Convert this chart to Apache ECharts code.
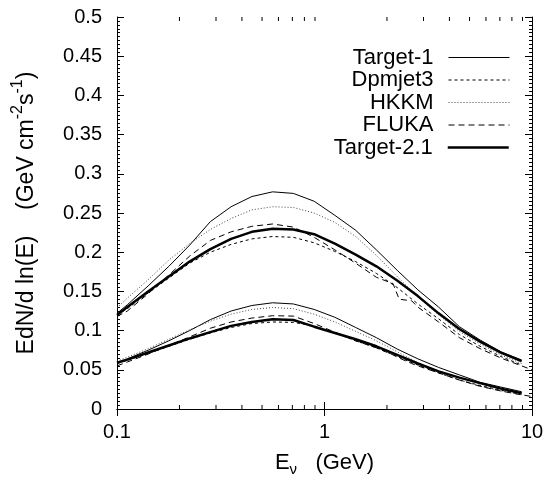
<!DOCTYPE html>
<html><head><meta charset="utf-8">
<script src="https://cdn.jsdelivr.net/npm/echarts@6/dist/echarts.min.js"></script>
<style>html,body{margin:0;padding:0;background:#fff}#c{width:546px;height:480px}</style>
</head><body><div id="c"></div>
<script>
// ---- data ----
const energies = [0.1, 0.1122, 0.1413, 0.1778, 0.2239, 0.2818, 0.3548, 0.4467, 0.5623, 0.7079, 0.8913, 1.122, 1.413, 1.778, 2.239, 2.818, 3.548, 4.467, 5.623, 7.079, 8.913];
const flukaEnergies = [0.1, 0.1122, 0.1413, 0.1778, 0.2239, 0.2818, 0.3548, 0.4467, 0.5623, 0.7079, 0.8913, 1.122, 1.413, 1.778, 2.138, 2.291, 2.630, 2.818, 3.548, 4.467, 5.623, 7.079, 8.913, 10];

const target1Upper = [0.122, 0.133, 0.157, 0.182, 0.209, 0.239, 0.258, 0.271, 0.277, 0.275, 0.265, 0.247, 0.228, 0.203, 0.177, 0.152, 0.130, 0.105, 0.088, 0.073, 0.0625];
const target1Lower = [0.059, 0.064, 0.075, 0.087, 0.100, 0.114, 0.125, 0.132, 0.1355, 0.134, 0.127, 0.117, 0.104, 0.091, 0.0765, 0.064, 0.053, 0.0435, 0.034, 0.028, 0.022];
const dpmjetUpper = [0.120, 0.128, 0.148, 0.167, 0.186, 0.200, 0.210, 0.217, 0.220, 0.219, 0.212, 0.201, 0.188, 0.173, 0.155, 0.134, 0.115, 0.095, 0.080, 0.067, 0.056];
const dpmjetLower = [0.058, 0.062, 0.071, 0.080, 0.089, 0.097, 0.104, 0.109, 0.111, 0.1105, 0.106, 0.097, 0.087, 0.078, 0.067, 0.056, 0.046, 0.037, 0.030, 0.024, 0.019];
const hkkmUpper = [0.129, 0.1415, 0.165, 0.190, 0.211, 0.229, 0.243, 0.254, 0.258, 0.257, 0.250, 0.238, 0.220, 0.196, 0.169, 0.143, 0.120, 0.099, 0.083, 0.069, 0.058];
const hkkmLower = [0.061, 0.066, 0.077, 0.089, 0.101, 0.112, 0.121, 0.127, 0.1295, 0.128, 0.121, 0.111, 0.099, 0.087, 0.073, 0.059, 0.047, 0.037, 0.029, 0.023, 0.018];
const flukaUpper = [0.118, 0.125, 0.147, 0.171, 0.195, 0.215, 0.226, 0.233, 0.236, 0.232, 0.219, 0.203, 0.186, 0.168, 0.160, 0.140, 0.138, 0.130, 0.111, 0.091, 0.077, 0.065, 0.055, 0.050];
const flukaLower = [0.055, 0.060, 0.070, 0.081, 0.092, 0.103, 0.111, 0.116, 0.119, 0.1185, 0.109, 0.098, 0.087, 0.078, 0.069, 0.065, 0.058, 0.055, 0.046, 0.037, 0.029, 0.023, 0.018, 0.016];
const target21Upper = [0.120, 0.130, 0.150, 0.169, 0.188, 0.204, 0.217, 0.226, 0.230, 0.229, 0.223, 0.211, 0.197, 0.182, 0.164, 0.144, 0.122, 0.102, 0.086, 0.072, 0.061];
const target21Lower = [0.059, 0.063, 0.072, 0.081, 0.090, 0.098, 0.106, 0.111, 0.1145, 0.1135, 0.105, 0.097, 0.089, 0.080, 0.069, 0.058, 0.048, 0.040, 0.033, 0.026, 0.020];

const seriesNames = ['Target-1', 'Dpmjet3', 'HKKM', 'FLUKA', 'Target-2.1'];
const xMinorTicks = [0.2, 0.3, 0.4, 0.5, 0.6, 0.7, 0.8, 0.9, 2, 3, 4, 5, 6, 7, 8, 9];

// ---- styles / layout ----
const FONT = 'Liberation Sans, Arial, Helvetica, sans-serif';
const lineStyles = {
  'Target-1':   { width: 1,   type: 'solid', color: '#000' },
  'Dpmjet3':    { width: 1,   type: [3, 3],  color: '#000' },
  'HKKM':       { width: 1,   type: [1, 2],  color: '#444' },
  'FLUKA':      { width: 1,   type: [6, 4],  color: '#000' },
  'Target-2.1': { width: 2.5, type: 'solid', color: '#000' }
};
const legendRowCenters = [57, 79.5, 102, 124.5, 147];

function pairs(xs, ys) { return xs.map((x, i) => [x, ys[i]]); }

const curveDefs = [
  ['Target-1', energies, target1Upper], ['Target-1', energies, target1Lower],
  ['Dpmjet3', energies, dpmjetUpper], ['Dpmjet3', energies, dpmjetLower],
  ['HKKM', energies, hkkmUpper], ['HKKM', energies, hkkmLower],
  ['FLUKA', flukaEnergies, flukaUpper], ['FLUKA', flukaEnergies, flukaLower],
  ['Target-2.1', energies, target21Upper], ['Target-2.1', energies, target21Lower]
];

const series = curveDefs.map(([name, xs, ys]) => ({
  name, type: 'line', data: pairs(xs, ys), symbol: 'none', showSymbol: false,
  smooth: false, silent: true, z: name === 'Target-2.1' ? 5 : 3,
  lineStyle: { ...lineStyles[name] },
  itemStyle: { color: lineStyles[name].color }
}));

series.push({
  type: 'custom', name: 'minorTicks', xAxisIndex: 0, yAxisIndex: 0, silent: true, clip: false,
  data: xMinorTicks.map(v => [v, 0]),
  encode: { x: 0, y: 1 },
  renderItem(params, api) {
    const e = api.value(0);
    const b = api.coord([e, 0]);
    const t = api.coord([e, 0.5]);
    return { type: 'group', children: [
      { type: 'line', shape: { x1: b[0], y1: b[1], x2: b[0], y2: b[1] - 4 }, style: { stroke: '#000', lineWidth: 1 } },
      { type: 'line', shape: { x1: t[0], y1: t[1], x2: t[0], y2: t[1] + 4 }, style: { stroke: '#000', lineWidth: 1 } }
    ] };
  }
});

const axisCommon = {
  axisLine: { show: true, lineStyle: { color: '#000', width: 1 } },
  splitLine: { show: false }
};

const option = {
  animation: false,
  backgroundColor: '#fff',
  textStyle: { fontFamily: FONT },
  grid: { left: 117, right: 14, top: 17, bottom: 71, containLabel: false, outerBoundsMode: 'none' },
  legend: seriesNames.map((n, i) => ({
    data: [n], orient: 'horizontal', align: 'right', right: 36, top: legendRowCenters[i] - 12 + 0.5,
    itemWidth: 61, itemHeight: 14, padding: 0, selectedMode: false,
    itemStyle: { opacity: 0 },
    lineStyle: { width: lineStyles[n].width, type: lineStyles[n].type, color: lineStyles[n].color },
    textStyle: { fontFamily: FONT, fontSize: 22, color: '#000', lineHeight: 24, padding: [0, 10, 0, 0] }
  })),
  xAxis: [
    { ...axisCommon, type: 'log', logBase: 10, min: 0.1, max: 10, position: 'bottom',
      axisTick: { show: true, inside: true, length: 7, lineStyle: { color: '#000' } },
      axisLabel: { color: '#000', fontSize: 20, fontFamily: FONT, margin: 13 },
      name: '{a|E}{s|ν}{a|   (GeV)}', nameLocation: 'middle', nameGap: 40,
      nameTextStyle: { rich: {
        a: { fontSize: 22, fontFamily: FONT, color: '#000', lineHeight: 28, verticalAlign: 'middle' },
        s: { fontSize: 15, fontFamily: FONT, color: '#000', lineHeight: 28, verticalAlign: 'bottom' }
      } }
    },
    { ...axisCommon, type: 'log', logBase: 10, min: 0.1, max: 10, position: 'top',
      axisTick: { show: true, inside: true, length: 7, lineStyle: { color: '#000' } },
      axisLabel: { show: false } }
  ],
  yAxis: [
    { ...axisCommon, type: 'value', min: 0, max: 0.5, interval: 0.05, position: 'left',
      axisTick: { show: true, inside: true, length: 7, lineStyle: { color: '#000' } },
      minorTick: { show: true, splitNumber: 10, length: 3, lineStyle: { color: '#000' } },
      axisLabel: { color: '#000', fontSize: 20, fontFamily: FONT, margin: 15 },
      name: '{a|EdN/d ln(E)    (GeV cm}{s|-2}{a|s}{s|-1}{a|)}', nameLocation: 'middle', nameRotate: 90, nameGap: 79,
      nameTextStyle: { rich: {
        a: { fontSize: 23, fontFamily: FONT, color: '#000', lineHeight: 28, verticalAlign: 'bottom' },
        s: { fontSize: 16, fontFamily: FONT, color: '#000', lineHeight: 28, verticalAlign: 'top' }
      } }
    },
    { ...axisCommon, type: 'value', min: 0, max: 0.5, interval: 0.05, position: 'right',
      axisTick: { show: true, inside: true, length: 7, lineStyle: { color: '#000' } },
      minorTick: { show: true, splitNumber: 10, length: 3, lineStyle: { color: '#000' } },
      axisLabel: { show: false } }
  ],
  series
};

const chart = echarts.init(document.getElementById('c'), null, { renderer: 'canvas' });
chart.setOption(option);
</script>
</body></html>
